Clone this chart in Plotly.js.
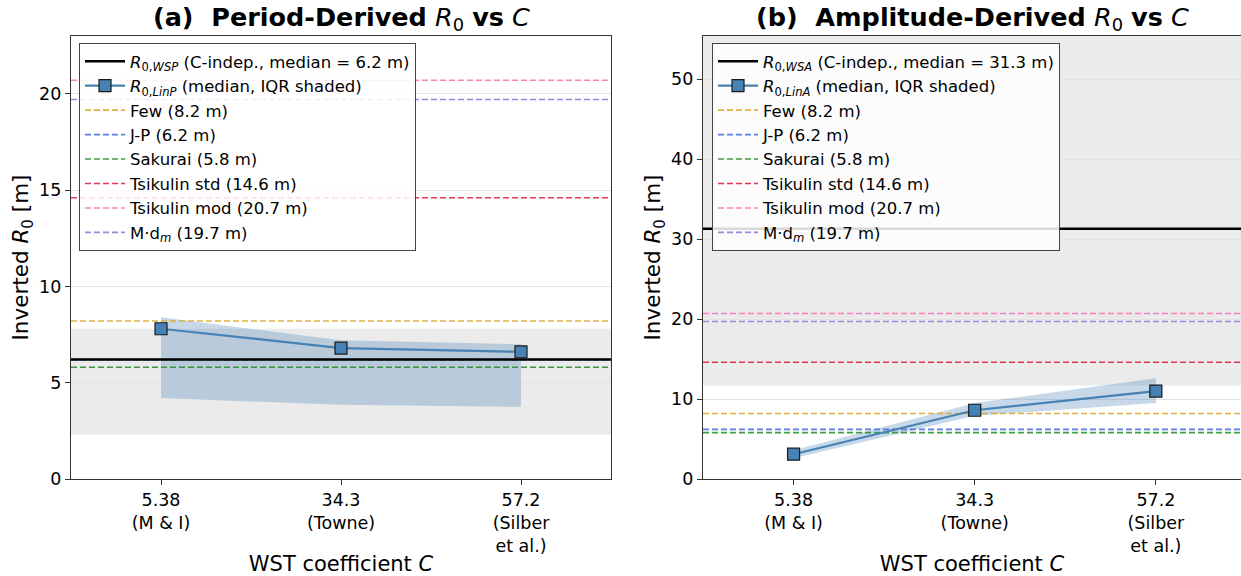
<!DOCTYPE html>
<html><head><meta charset="utf-8">
<script src="https://cdn.plot.ly/plotly-3.0.1.min.js"></script>
<style>html,body{margin:0;padding:0;background:#fff}</style>
</head><body>
<div id="chart" style="width:1241px;height:576px"></div>
<script>
// ---- data ----
const xIdx = [0, 1, 2];
const tickLabels = ['5.38<br>(M & I)', '34.3<br>(Towne)', '57.2<br>(Silber<br>et al.)'];

const linP_median = [7.8, 6.8, 6.6];
const linP_q1 = [4.2, 3.85, 3.75];
const linP_q3 = [8.4, 7.2, 7.0];
const wsp_median = 6.2, wsp_q1 = 2.3, wsp_q3 = 7.8;

const linA_median = [3.1, 8.6, 11.0];
const linA_q1 = [2.6, 7.9, 9.5];
const linA_q3 = [3.6, 9.5, 12.6];
const wsa_median = 31.3, wsa_q1 = 11.7, wsa_q3 = 62;

const refNames = ['Few', 'J-P', 'Sakurai', 'Tsikulin std', 'Tsikulin mod', 'M·d<sub><i>m</i></sub>'];
const refValues = [8.2, 6.2, 5.8, 14.6, 20.7, 19.7];
const refColors = ['rgba(218,165,32,0.85)', 'rgba(65,105,225,0.85)', 'rgba(34,139,34,0.85)', 'rgba(220,20,60,0.85)', 'rgba(255,105,180,0.85)', 'rgba(147,112,219,0.85)'];

const xRangeA = [-0.5, 2.5];
const xRangeB = [-0.5, 2.47];
const yRangeA = [0, 23];
const yRangeB = [0, 55.4];

const font = 'DejaVu Sans, sans-serif';
const steel = '#4682B4';

function panel(xa, ya, leg, xr, med, q1, q3, cMed, cQ1, cQ3, sub) {
  const t = [];
  const xs = [xr[0], xr[1] + 0.2];
  t.push({x: xIdx, y: q1, xaxis: xa, yaxis: ya, mode: 'lines', line: {width: 0, color: 'rgba(0,0,0,0)'}, showlegend: false, hoverinfo: 'skip'});
  t.push({x: xIdx, y: q3, xaxis: xa, yaxis: ya, mode: 'lines', line: {width: 0, color: 'rgba(0,0,0,0)'}, fill: 'tonexty', fillcolor: 'rgba(70,130,180,0.3)', showlegend: false, hoverinfo: 'skip'});
  refNames.forEach((n, i) => {
    t.push({x: xs, y: [refValues[i], refValues[i]], xaxis: xa, yaxis: ya, mode: 'lines',
      name: n + ' (' + refValues[i].toFixed(1) + ' m)', legend: leg, legendrank: 10 + i,
      line: {color: refColors[i], width: 1.6, dash: '6px,3px'}});
  });
  t.push({x: xs, y: [cMed, cMed], xaxis: xa, yaxis: ya, mode: 'lines',
    name: '<i>R</i><sub>0,<i>WS' + sub + '</i></sub> (C-indep., median = ' + cMed.toFixed(1) + ' m)',
    legend: leg, legendrank: 1, line: {color: '#000', width: 2.5}});
  t.push({x: xIdx, y: med, xaxis: xa, yaxis: ya, mode: 'lines+markers',
    name: '<i>R</i><sub>0,<i>Lin' + sub + '</i></sub> (median, IQR shaded)',
    legend: leg, legendrank: 2,
    line: {color: steel, width: 2.2},
    marker: {symbol: 'square', size: 12, color: steel, line: {color: '#1a1a1a', width: 1.2}}});
  return t;
}

const traces = [].concat(
  panel('x', 'y', 'legend', xRangeA, linP_median, linP_q1, linP_q3, wsp_median, wsp_q1, wsp_q3, 'P'),
  panel('x2', 'y2', 'legend2', xRangeB, linA_median, linA_q1, linA_q3, wsa_median, wsa_q1, wsa_q3, 'A')
);

const shapes = [
  {type: 'rect', xref: 'x domain', yref: 'y', x0: 0, x1: 1, y0: wsp_q1, y1: wsp_q3, fillcolor: 'rgba(128,128,128,0.16)', line: {width: 0}, layer: 'below'},
  {type: 'rect', xref: 'x2 domain', yref: 'y2', x0: 0, x1: 1, y0: wsa_q1, y1: wsa_q3, fillcolor: 'rgba(128,128,128,0.16)', line: {width: 0}, layer: 'below'}
];

const axisCommon = {
  showline: true, linecolor: '#333', linewidth: 1.2, mirror: true,
  ticks: 'outside', ticklen: 5, tickcolor: '#333',
  tickfont: {family: font, size: 17.5, color: '#000'},
  zeroline: false
};
const xCommon = Object.assign({}, axisCommon, {
  tickvals: xIdx, ticktext: tickLabels, showgrid: false,
  title: {text: 'WST coefficient <i>C</i>', font: {family: font, size: 21, color: '#000'}, standoff: 4}
});
const yCommon = Object.assign({}, axisCommon, {
  showgrid: true, gridcolor: '#e3e3e3', gridwidth: 1,
  title: {text: 'Inverted <i>R</i><sub>0</sub> [m]', font: {family: font, size: 21.5, color: '#000'}, standoff: 4}
});

const legendCommon = {
  bgcolor: 'rgba(255,255,255,0.85)', bordercolor: '#444', borderwidth: 1,
  font: {family: font, size: 16.5, color: '#000'}, xanchor: 'left', yanchor: 'top',
  tracegroupgap: 0, itemwidth: 40, traceorder: 'normal'
};

const layout = {
  width: 1241, height: 576,
  margin: {l: 0, r: 0, t: 36, b: 97},
  paper_bgcolor: '#fff', plot_bgcolor: '#fff',
  font: {family: font, color: '#000'},
  xaxis: Object.assign({}, xCommon, {domain: [71/1241, 611/1241], range: xRangeA, anchor: 'y'}),
  yaxis: Object.assign({}, yCommon, {range: yRangeA, tickvals: [0, 5, 10, 15, 20], anchor: 'x'}),
  xaxis2: Object.assign({}, xCommon, {domain: [703/1241, 1], range: xRangeB, anchor: 'y2'}),
  yaxis2: Object.assign({}, yCommon, {range: yRangeB, tickvals: [0, 10, 20, 30, 40, 50], anchor: 'x2'}),
  legend: Object.assign({}, legendCommon, {x: 79/1241, y: (479-43)/443}),
  legend2: Object.assign({}, legendCommon, {x: 712/1241, y: (479-43)/443}),
  shapes: shapes,
  showlegend: true,
  annotations: [
    {xref: 'x domain', yref: 'paper', x: 0.5, y: 1, yanchor: 'bottom', yshift: -1, showarrow: false,
     text: '<b>(a)  Period-Derived</b> <i>R</i><sub>0</sub> <b>vs</b> <i>C</i>', font: {family: font, size: 25.5, color: '#000'}},
    {xref: 'x2 domain', yref: 'paper', x: 0.5, y: 1, yanchor: 'bottom', yshift: -1, showarrow: false,
     text: '<b>(b)  Amplitude-Derived</b> <i>R</i><sub>0</sub> <b>vs</b> <i>C</i>', font: {family: font, size: 25.5, color: '#000'}}
  ]
};

Plotly.newPlot('chart', traces, layout, {displayModeBar: false, staticPlot: true});
</script>
</body></html>
